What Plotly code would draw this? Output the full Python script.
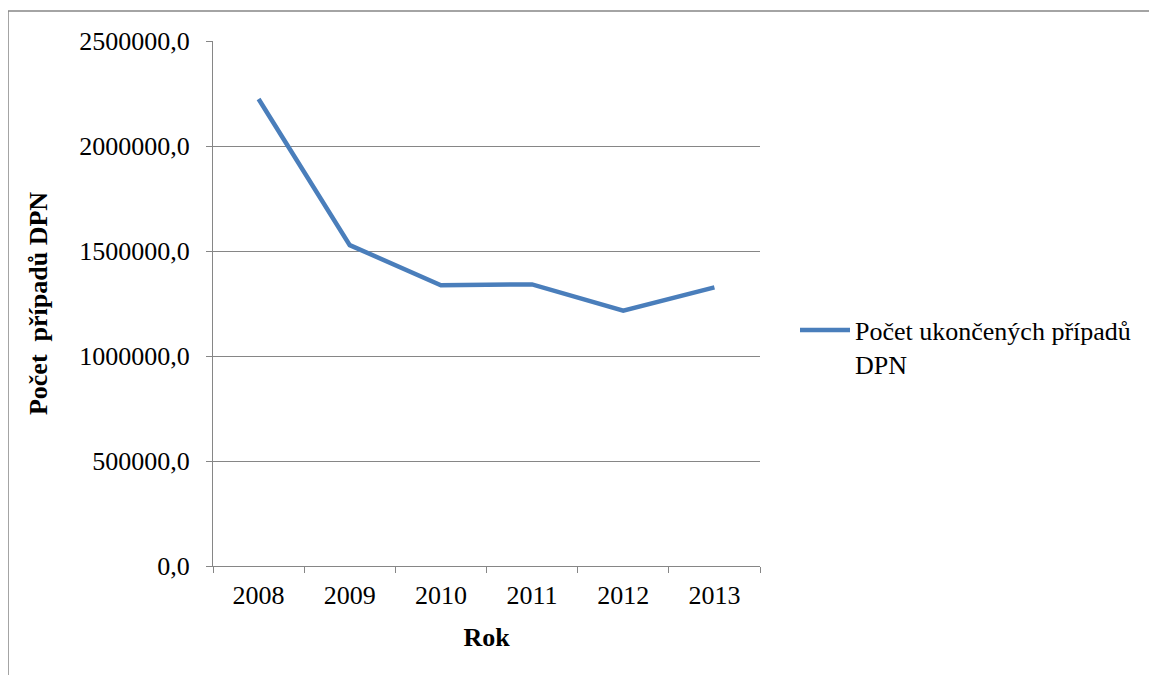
import plotly.graph_objects as go

years = ["2008", "2009", "2010", "2011", "2012", "2013"]
cases = [2224000, 1528000, 1337000, 1341000, 1216000, 1327000]
series_name = "Počet ukončených případů<br>DPN"
y_ticks = [0, 500000, 1000000, 1500000, 2000000, 2500000]

# page body has an 8px margin, so figure coordinates = screen - 8
OFF = 8
W, H = 1157, 675
L, R, T, B = 213 - OFF, 760 - OFF, 41 - OFF, 566 - OFF
pw, ph = R - L, B - T

def px(x):
    return (x - OFF - L) / pw

def py(y):
    return (B - (y - OFF)) / ph

font = "Liberation Serif, Times New Roman, serif"
grey = "#868686"
FS = 26

fig = go.Figure()
fig.add_trace(go.Scatter(
    x=years, y=cases, mode="lines", name=series_name,
    line=dict(color="#4a7ebb", width=4.5),
))

fig.update_layout(
    width=W, height=H,
    margin=dict(l=L, r=W - R, t=T, b=H - B, pad=0),
    paper_bgcolor="white", plot_bgcolor="white",
    separators=", ",
    font=dict(family=font, size=FS, color="black"),
    showlegend=True,
    legend=dict(x=px(795), y=py(347), xanchor="left", yanchor="middle",
                font=dict(family=font, size=FS, color="black"),
                bgcolor="rgba(0,0,0,0)", itemwidth=50, tracegroupgap=0,
                valign="top"),
    xaxis=dict(
        type="category", showgrid=False, showline=True, linecolor=grey, linewidth=1,
        ticks="outside", tickson="boundaries", ticklen=6, tickcolor=grey,
        tickfont=dict(family=font, size=FS), ticklabelstandoff=6,
        title=dict(text="<b>Rok</b>", font=dict(family=font, size=FS), standoff=18),
        zeroline=False, range=[-0.5, 5.5],
    ),
    yaxis=dict(
        range=[0, 2500000], tickvals=y_ticks, tickformat=".1f",
        showgrid=True, gridcolor=grey, gridwidth=1,
        showline=True, linecolor=grey, linewidth=1,
        ticks="outside", ticklen=6, tickcolor=grey,
        tickfont=dict(family=font, size=FS), ticklabelstandoff=11,
        title=dict(text="<b>Počet\u00a0\u00a0případů DPN</b>", font=dict(family=font, size=FS), standoff=24),
        zeroline=False,
    ),
)

fig.add_shape(type="rect", xref="paper", yref="paper",
              x0=px(8), y0=py(720), x1=px(1220), y1=py(11),
              line=dict(color=grey, width=1.5), fillcolor="rgba(0,0,0,0)", layer="below")

fig.write_html("out.html")
